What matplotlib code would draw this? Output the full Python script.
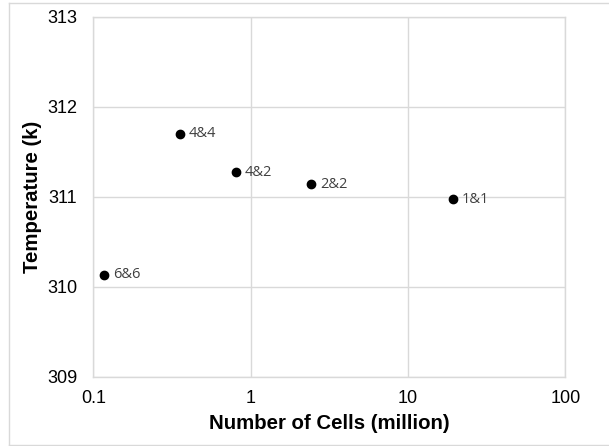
import matplotlib
matplotlib.use("Agg")
import matplotlib.pyplot as plt
from matplotlib.lines import Line2D
from matplotlib.ticker import FixedLocator, FixedFormatter, NullLocator

# Mesh study: cell count vs. temperature
labels = ["6&6", "4&4", "4&2", "2&2", "1&1"]
cells_million = [0.1175, 0.356, 0.804, 2.42, 19.3]
temperature_k = [310.13, 311.70, 311.27, 311.14, 310.97]

x_ticks = [0.1, 1, 10, 100]
x_tick_labels = ["0.1", "1", "10", "100"]
y_ticks = [309, 310, 311, 312, 313]

fig = plt.figure(figsize=(6.09, 4.46), dpi=100)
fig.patch.set_facecolor("white")
ax = fig.add_axes([0.1532, 0.1554, 0.7750, 0.8072])

grid_color = "#d9d9d9"
ax.set_xscale("log")
ax.set_xlim(0.1, 100)
ax.set_ylim(309, 313)
ax.xaxis.set_major_locator(FixedLocator(x_ticks))
ax.xaxis.set_major_formatter(FixedFormatter(x_tick_labels))
ax.xaxis.set_minor_locator(NullLocator())
ax.set_yticks(y_ticks)
ax.set_yticklabels([str(v) for v in y_ticks])

ax.grid(True, color=grid_color, linewidth=1.0)
ax.set_axisbelow(True)
for s in ax.spines.values():
    s.set_color(grid_color)
    s.set_linewidth(1.0)
ax.tick_params(length=0, labelsize=13, colors="#000000")
ax.tick_params(axis="x", pad=9.8)
ax.tick_params(axis="y", pad=11.5)
for t in ax.get_xticklabels() + ax.get_yticklabels():
    t.set_family("Liberation Sans")

ax.scatter(cells_million, temperature_k, s=36, color="black", zorder=3)
for x, y, lab in zip(cells_million, temperature_k, labels):
    ax.annotate(lab, (x, y), xytext=(6.5, 0), textcoords="offset points",
                ha="left", va="center", fontsize=10.5, color="#404040",
                family="Open Sans")

ax.set_xlabel("Number of Cells (million)", fontsize=14.7, fontweight="bold",
              family="Liberation Sans", labelpad=4.5)
ax.set_ylabel("Temperature (k)", fontsize=14.7, fontweight="bold",
              family="Liberation Sans", labelpad=4)

# light frame around the chart area (runs off the right edge)
W, H = 609.0, 446.0
fx0, fy0, fy1 = 9 / W, 1 - 445 / H, 1 - 2.7 / H
for xs, ys in [((fx0, 1.0), (fy1, fy1)),
               ((fx0, 1.0), (fy0, fy0)),
               ((fx0, fx0), (fy0, fy1))]:
    fig.add_artist(Line2D(xs, ys, transform=fig.transFigure,
                          color=grid_color, linewidth=1.0))

fig.savefig("out.png", dpi=100)
